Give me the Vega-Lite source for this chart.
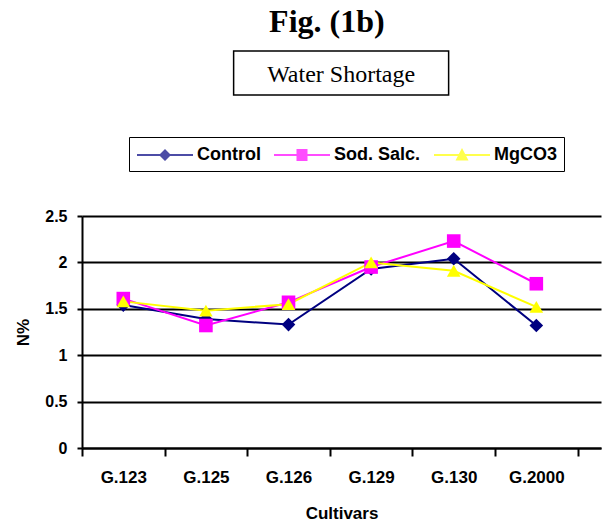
{
  "$schema": "https://vega.github.io/schema/vega-lite/v6.json",
  "padding": {"left": 14, "top": 6, "right": 3, "bottom": 0},
  "background": "white",
  "title": {"text": "Fig. (1b)", "font": "Liberation Serif", "fontSize": 32, "fontWeight": "bold", "color": "black", "anchor": "middle", "offset": 11, "dx": 19},
  "spacing": 40,
  "center": true,
  "resolve": {"scale": {"color": "independent", "shape": "independent"}},
  "vconcat": [
    {
      "width": 215,
      "height": 44,
      "view": {"stroke": "black", "strokeWidth": 1.5},
      "data": {"values": [{"label": "Water Shortage"}]},
      "mark": {"type": "text", "font": "Liberation Serif", "fontSize": 24, "color": "black", "baseline": "middle", "dy": 2},
      "encoding": {
        "text": {"field": "label", "type": "nominal"}
      }
    },
    {
      "width": 519,
      "height": 232,
      "view": {"stroke": null},
      "data": {"values": [
        {"cultivar": "G.123", "series": "Control", "value": 1.54},
        {"cultivar": "G.125", "series": "Control", "value": 1.39},
        {"cultivar": "G.126", "series": "Control", "value": 1.33},
        {"cultivar": "G.129", "series": "Control", "value": 1.93},
        {"cultivar": "G.130", "series": "Control", "value": 2.04},
        {"cultivar": "G.2000", "series": "Control", "value": 1.32},
        {"cultivar": "G.123", "series": "Sod. Salc.", "value": 1.61},
        {"cultivar": "G.125", "series": "Sod. Salc.", "value": 1.32},
        {"cultivar": "G.126", "series": "Sod. Salc.", "value": 1.57},
        {"cultivar": "G.129", "series": "Sod. Salc.", "value": 1.95},
        {"cultivar": "G.130", "series": "Sod. Salc.", "value": 2.23},
        {"cultivar": "G.2000", "series": "Sod. Salc.", "value": 1.77},
        {"cultivar": "G.123", "series": "MgCO3", "value": 1.58},
        {"cultivar": "G.125", "series": "MgCO3", "value": 1.48},
        {"cultivar": "G.126", "series": "MgCO3", "value": 1.55},
        {"cultivar": "G.129", "series": "MgCO3", "value": 2.0},
        {"cultivar": "G.130", "series": "MgCO3", "value": 1.91},
        {"cultivar": "G.2000", "series": "MgCO3", "value": 1.52}
      ]},
      "encoding": {
        "x": {
          "field": "cultivar", "type": "nominal", "sort": null,
          "scale": {"type": "band", "paddingInner": 0, "paddingOuter": 0.1415, "align": 0},
          "axis": {"title": "Cultivars", "labelAngle": 0, "tickBand": "extent", "tickSize": 8, "labelPadding": 13, "labelFontSize": 17, "titleFontSize": 17, "titlePadding": 20, "grid": false}
        },
        "y": {
          "field": "value", "type": "quantitative",
          "scale": {"domain": [0, 2.5], "nice": false, "zero": true},
          "axis": {"title": "N%", "values": [0, 0.5, 1, 1.5, 2, 2.5], "format": "~g", "grid": true, "gridColor": "black", "gridWidth": 2, "tickSize": 5, "labelPadding": 10, "labelFontSize": 16, "titleFontSize": 17, "titlePadding": 12}
        }
      },
      "resolve": {"scale": {"color": "independent", "shape": "independent"}},
      "layer": [
        {
          "mark": {"type": "line", "strokeWidth": 2},
          "encoding": {
            "color": {"field": "series", "type": "nominal", "legend": null,
              "scale": {"domain": ["Control", "Sod. Salc.", "MgCO3"], "range": ["#000080", "#FF00FF", "#FFFF00"]}}
          }
        },
        {
          "mark": {"type": "point", "filled": true, "size": 185, "opacity": 1},
          "encoding": {
            "shape": {"field": "series", "type": "nominal", "legend": null,
              "scale": {"domain": ["MgCO3", "Control", "Sod. Salc."], "range": ["triangle-up", "diamond", "square"]}},
            "color": {"field": "series", "type": "nominal", "legend": null,
              "scale": {"domain": ["Control", "Sod. Salc.", "MgCO3"], "range": ["#000080", "#FF00FF", "#FFFF00"]}}
          }
        },
        {
          "mark": {"type": "point", "filled": true, "size": 0},
          "encoding": {
            "shape": {"field": "series", "type": "nominal",
              "scale": {"domain": ["Control", "Sod. Salc.", "MgCO3"], "range": [
                "M-1,-0.1H4.6V0.1H-1ZM1.8,-0.6L2.4,0L1.8,0.6L1.2,0Z",
                "M-1,-0.1H4.6V0.1H-1ZM1.25,-0.6H2.35V0.6H1.25Z",
                "M-1,-0.1H4.6V0.1H-1ZM1.8,-0.7L2.45,0.55H1.15Z"
              ]}},
            "color": {
              "field": "series", "type": "nominal",
              "scale": {"domain": ["Control", "Sod. Salc.", "MgCO3"], "range": ["#000080", "#FF00FF", "#FFFF00"]},
              "legend": {
                "orient": "none", "legendX": 47, "legendY": -79, "direction": "horizontal", "title": null,
                "strokeColor": "black", "padding": 7, "columnPadding": 12,
                "labelFont": "Liberation Sans", "labelFontWeight": "bold", "labelFontSize": 18, "labelColor": "black",
                "symbolSize": 400, "labelOffset": 39,
                "encode": {
                  "legend": {"strokeWidth": {"value": 2}}
                }
              }
            }
          }
        }
      ]
    }
  ],
  "config": {
    "axis": {
      "domainColor": "black", "domainWidth": 2, "tickColor": "black", "tickWidth": 2,
      "labelColor": "black", "titleColor": "black",
      "labelFont": "Liberation Sans", "labelFontWeight": "bold",
      "titleFont": "Liberation Sans", "titleFontWeight": "bold"
    }
  }
}
